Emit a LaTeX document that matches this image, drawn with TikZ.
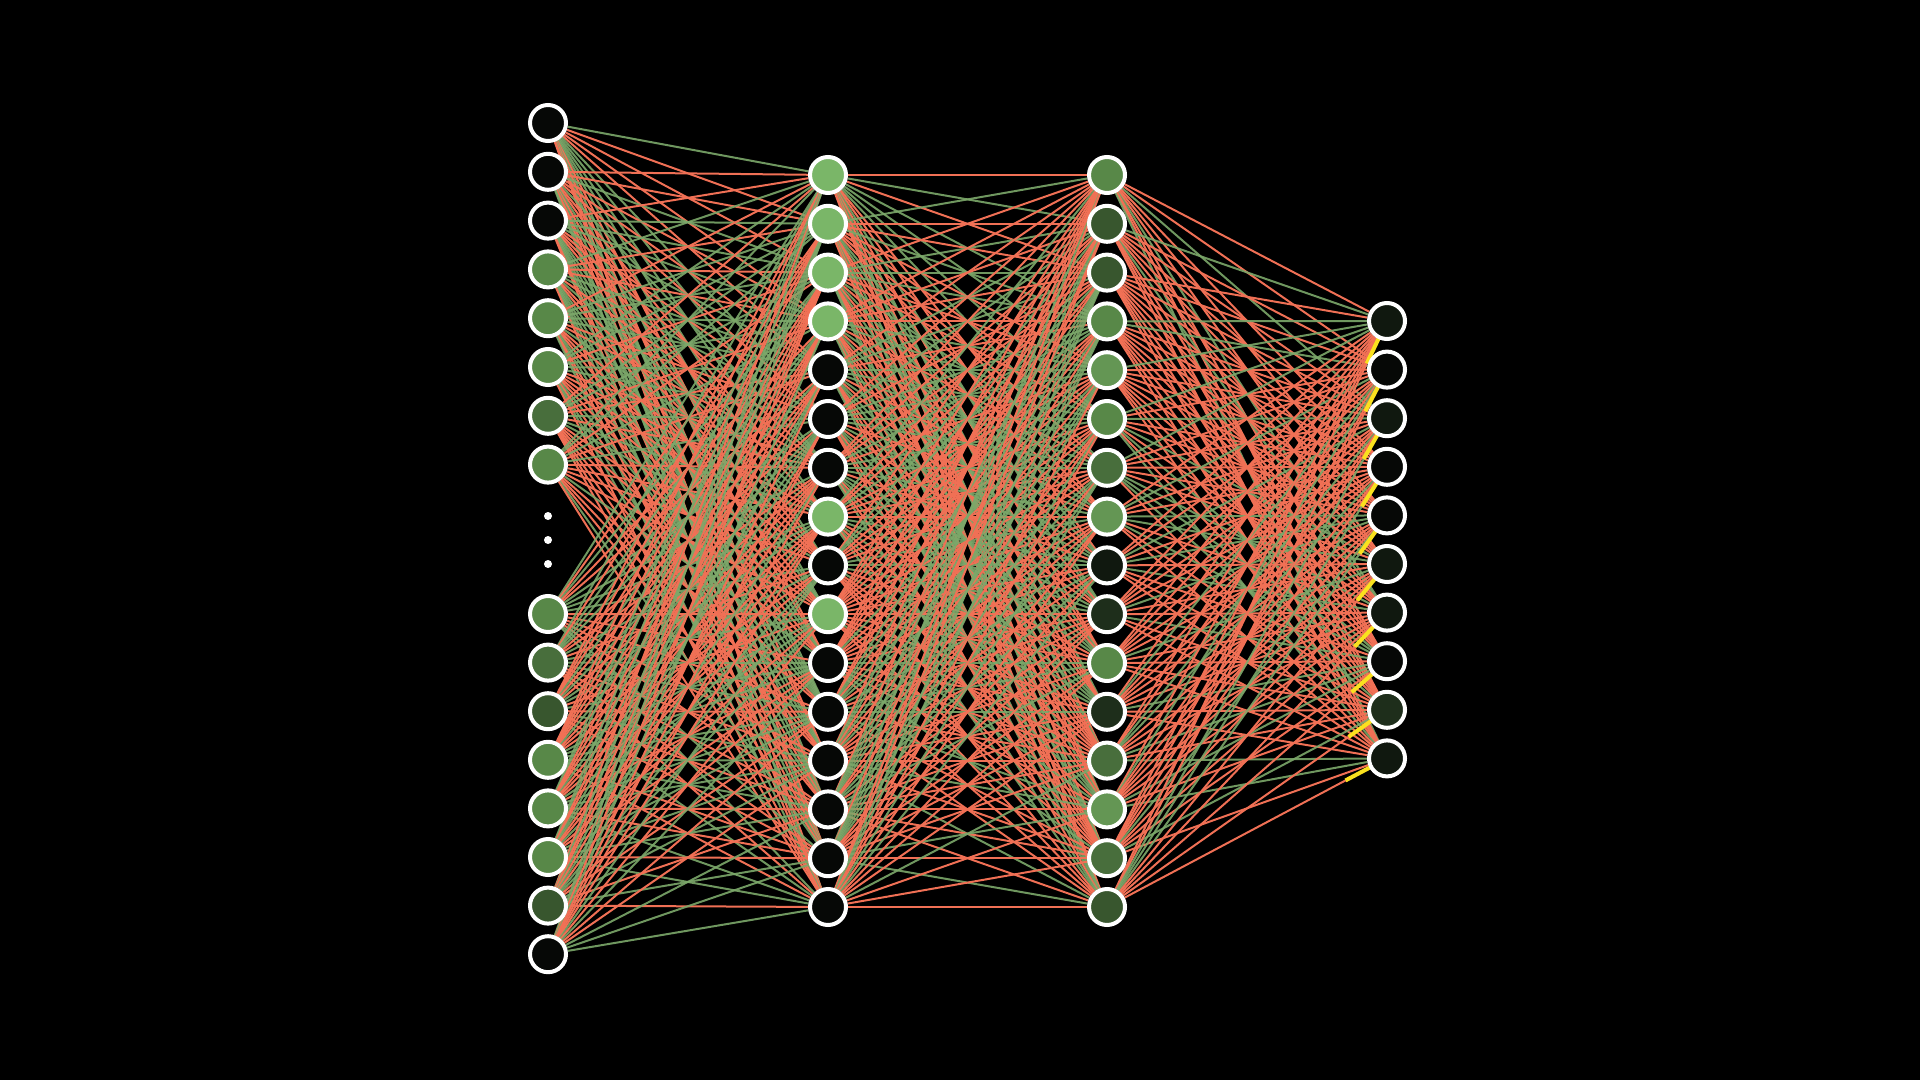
\documentclass[tikz,border=0pt]{standalone}
\usetikzlibrary{calc}
\pgfdeclarelayer{bg}
\pgfsetlayers{bg,main}
\definecolor{edgered}{RGB}{240,112,85}
\definecolor{edgegreen}{RGB}{124,168,106}
\definecolor{signal}{RGB}{250,225,30}
\definecolor{nK}{RGB}{6,8,6}
\definecolor{nV}{RGB}{16,24,15}
\definecolor{nW}{RGB}{30,46,27}
\definecolor{nD}{RGB}{56,86,46}
\definecolor{nM}{RGB}{72,110,60}
\definecolor{nG}{RGB}{88,136,72}
\definecolor{nH}{RGB}{100,150,84}
\definecolor{nL}{RGB}{122,182,104}
\begin{document}
\begin{tikzpicture}[x=0.5pt,y=-0.5pt,
  neuron/.style={circle,draw=white,line width=2pt,minimum size=18pt,inner sep=0pt},
  redge/.style={draw=edgered,line width=1pt},
  gedge/.style={draw=edgegreen,line width=1pt,opacity=0.9},
  yedge/.style={draw=signal,line width=2pt},
  dotmark/.style={circle,fill=white,inner sep=0pt,minimum size=4pt}]
\useasboundingbox (0,0) rectangle (1920,1080);
% input layer
\foreach \i/\c in {1/nK,2/nK,3/nK,4/nG,5/nG,6/nG,7/nM,8/nG,9/nG,10/nM,11/nD,12/nG,13/nG,14/nG,15/nD,16/nK}{
  \pgfmathsetmacro\yy{(\i<9)*(123+48.8*(\i-1))+(\i>8)*(614+48.6*(\i-9))}
  \node[neuron,fill=\c] (a\i) at (548,\yy) {};
}
\node[dotmark] (dot1) at (548,516) {};
\node[dotmark] (dot2) at (548,540) {};
\node[dotmark] (dot3) at (548,564) {};
% hidden layer 1
\foreach \i/\c in {1/nL,2/nL,3/nL,4/nL,5/nK,6/nK,7/nK,8/nL,9/nK,10/nL,11/nK,12/nK,13/nK,14/nK,15/nK,16/nK}{
  \pgfmathsetmacro\yy{175+48.8*(\i-1)}
  \node[neuron,fill=\c] (b\i) at (828,\yy) {};
}
% hidden layer 2
\foreach \i/\c in {1/nG,2/nD,3/nD,4/nG,5/nH,6/nG,7/nM,8/nH,9/nV,10/nW,11/nG,12/nW,13/nM,14/nH,15/nM,16/nD}{
  \pgfmathsetmacro\yy{175+48.8*(\i-1)}
  \node[neuron,fill=\c] (c\i) at (1107,\yy) {};
}
% output layer
\foreach \i/\c in {1/nV,2/nK,3/nV,4/nK,5/nK,6/nV,7/nV,8/nK,9/nW,10/nV}{
  \pgfmathsetmacro\yy{321+48.6*(\i-1)}
  \node[neuron,fill=\c] (d\i) at (1387,\yy) {};
}
\begin{pgfonlayer}{bg}
\fill[black] (0,0) rectangle (1920,1080);
\pgfmathsetseed{7}
\foreach \i in {1,...,16}{\foreach \j in {1,...,16}{
  \pgfmathsetmacro\r{rnd}
  \ifdim\r pt<0.5pt \draw[redge] (a\i)--(b\j); \else \draw[gedge] (a\i)--(b\j); \fi
}}
\foreach \i in {1,...,16}{\foreach \j in {1,...,16}{
  \pgfmathsetmacro\r{rnd}
  \ifdim\r pt<0.56pt \draw[redge] (b\i)--(c\j); \else \draw[gedge] (b\i)--(c\j); \fi
}}
\foreach \i in {1,...,16}{\foreach \j in {1,...,10}{
  \pgfmathsetmacro\r{rnd}
  \ifdim\r pt<0.66pt \draw[redge] (c\i)--(d\j); \else \draw[gedge] (c\i)--(d\j); \fi
}}
\foreach \j in {1,...,10}{
  \draw[yedge] ($(d\j.center)!9.5pt!(c16.center)$) -- ($(d\j.center)!23.5pt!(c16.center)$);
}
\end{pgfonlayer}
\end{tikzpicture}
\end{document}
